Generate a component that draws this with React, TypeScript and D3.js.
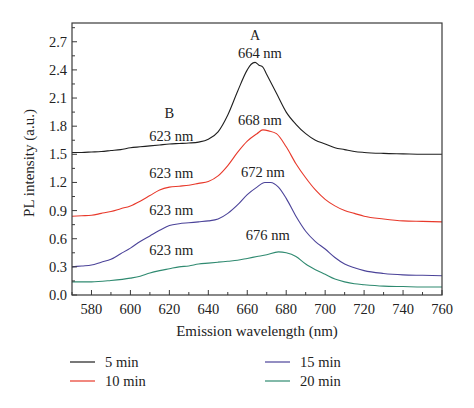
import React from "react";
import * as d3 from "d3";

const wl5 = [570,575,580,585,590,595,600,605,610,615,620,625,630,635,640,645,650,655,660,662,664,666,668,670,675,680,685,690,695,700,705,710,715,720,730,740,750,760];
const v5 = [1.52,1.52,1.525,1.53,1.54,1.55,1.57,1.58,1.59,1.60,1.61,1.615,1.62,1.63,1.66,1.74,1.92,2.17,2.40,2.46,2.48,2.45,2.43,2.35,2.15,1.95,1.82,1.72,1.65,1.61,1.57,1.55,1.53,1.52,1.51,1.505,1.50,1.50];

const wl10 = [570,575,580,585,590,595,600,605,610,615,620,625,630,635,640,645,650,655,660,665,668,671,675,680,685,690,695,700,705,710,715,720,730,740,750,760];
const v10 = [0.84,0.845,0.85,0.87,0.89,0.92,0.95,1.00,1.06,1.12,1.15,1.16,1.17,1.19,1.21,1.27,1.38,1.52,1.64,1.72,1.76,1.75,1.72,1.58,1.40,1.25,1.12,1.02,0.95,0.90,0.87,0.84,0.81,0.79,0.785,0.78];

const wl15 = [570,575,580,585,590,595,600,605,610,615,620,625,630,635,640,645,650,655,660,665,669,672,676,680,685,690,695,700,705,710,715,720,730,740,750,760];
const v15 = [0.30,0.31,0.32,0.35,0.38,0.44,0.50,0.57,0.63,0.69,0.74,0.76,0.77,0.78,0.79,0.81,0.87,0.96,1.07,1.15,1.20,1.20,1.15,1.03,0.84,0.68,0.57,0.49,0.40,0.33,0.29,0.26,0.23,0.215,0.21,0.205];

const wl20 = [570,580,590,600,605,610,615,620,625,630,635,640,645,650,655,660,665,670,676,680,685,690,695,700,705,710,715,720,730,740,750,760];
const v20 = [0.14,0.14,0.155,0.18,0.20,0.235,0.26,0.28,0.30,0.31,0.33,0.34,0.35,0.36,0.37,0.39,0.41,0.43,0.46,0.45,0.41,0.33,0.27,0.22,0.17,0.14,0.12,0.11,0.095,0.09,0.085,0.085];

const seriesNames = ["5 min", "10 min", "15 min", "20 min"];
const seriesColors = ["#1f1f1f", "#e8392b", "#4b4399", "#2f8a70"];
const xTicks = [580,600,620,640,660,680,700,720,740,760];
const yTicks = [0.0,0.3,0.6,0.9,1.2,1.5,1.8,2.1,2.4,2.7];

const peakLabels = [
  { text: "A", x: 664, y: 2.72 },
  { text: "664 nm", x: 666.5, y: 2.53 },
  { text: "668 nm", x: 666.5, y: 1.81 },
  { text: "672 nm", x: 668, y: 1.26 },
  { text: "676 nm", x: 670.5, y: 0.59 },
  { text: "B", x: 620, y: 1.89 },
  { text: "623 nm", x: 621, y: 1.64 },
  { text: "623 nm", x: 621, y: 1.25 },
  { text: "623 nm", x: 621, y: 0.85 },
  { text: "623 nm", x: 621, y: 0.43 },
];

export default function App() {
  const W = 474, H = 408;
  const L = 72, R = 442, T = 23, B = 295;
  const x = d3.scaleLinear().domain([570, 760]).range([L, R]);
  const y = d3.scaleLinear().domain([0, 2.9]).range([B, T]);
  const line = d3.line<[number, number]>().x(d => x(d[0])).y(d => y(d[1])).curve(d3.curveMonotoneX);
  const data = [
    d3.zip(wl5, v5), d3.zip(wl10, v10), d3.zip(wl15, v15), d3.zip(wl20, v20)
  ] as [number, number][][];
  const font = "'Liberation Serif', 'DejaVu Serif', serif";
  const minorX = d3.range(570, 761, 10);
  const minorY = d3.range(0, 2.9, 0.15);
  const textCol = "#222";
  return (
    <svg width={W} height={H} style={{ position: "absolute", left: 0, top: 0, background: "#fff" }} fontFamily={font}>
      <rect x={0} y={0} width={W} height={H} fill="#fff" />
      <defs>
        <clipPath id="plotclip"><rect x={L} y={T} width={R - L} height={B - T} /></clipPath>
      </defs>
      <g clipPath="url(#plotclip)">
        {data.map((d, i) => (
          <path key={i} d={line(d) || ""} fill="none" stroke={seriesColors[i]} strokeWidth={1.1} />
        ))}
      </g>
      <rect x={L} y={T} width={R - L} height={B - T} fill="none" stroke="#3a3a3a" strokeWidth={1.2} />
      {minorX.map(v => (
        <line key={"mx" + v} x1={x(v)} x2={x(v)} y1={B} y2={B - (v % 20 === 0 ? 5 : 3)} stroke="#3a3a3a" strokeWidth={1} />
      ))}
      {minorY.map((v, i) => (
        <line key={"my" + i} x1={L} x2={L + (i % 2 === 0 ? 5 : 3)} y1={y(v)} y2={y(v)} stroke="#3a3a3a" strokeWidth={1} />
      ))}
      {xTicks.map(v => (
        <text key={"xt" + v} x={x(v)} y={B + 19} fontSize={14.5} textAnchor="middle" fill={textCol}>{v}</text>
      ))}
      {yTicks.map(v => (
        <text key={"yt" + v} x={L - 5} y={y(v) + 5} fontSize={14.5} textAnchor="end" fill={textCol}>{v.toFixed(1)}</text>
      ))}
      <text x={(L + R) / 2} y={336} fontSize={15} textAnchor="middle" fill={textCol}>Emission wavelength (nm)</text>
      <text transform={`translate(34,${(T + B) / 2 + 4}) rotate(-90)`} fontSize={15} textAnchor="middle" fill={textCol}>PL intensity (a.u.)</text>
      {peakLabels.map((p, i) => (
        <text key={"pl" + i} x={x(p.x)} y={y(p.y)} fontSize={i === 0 ? 14 : 14.5} textAnchor="middle" fill={textCol}>{p.text}</text>
      ))}
      {seriesNames.map((n, i) => {
        const col = i < 2 ? 0 : 1;
        const row = i % 2;
        const lx = col === 0 ? 70 : 265;
        const ly = 362 + row * 19;
        return (
          <g key={"lg" + i}>
            <line x1={lx} x2={lx + 25} y1={ly} y2={ly} stroke={seriesColors[i]} strokeWidth={1.2} />
            <text x={lx + 35} y={ly + 5} fontSize={14.5} fill={textCol}>{n}</text>
          </g>
        );
      })}
    </svg>
  );
}
